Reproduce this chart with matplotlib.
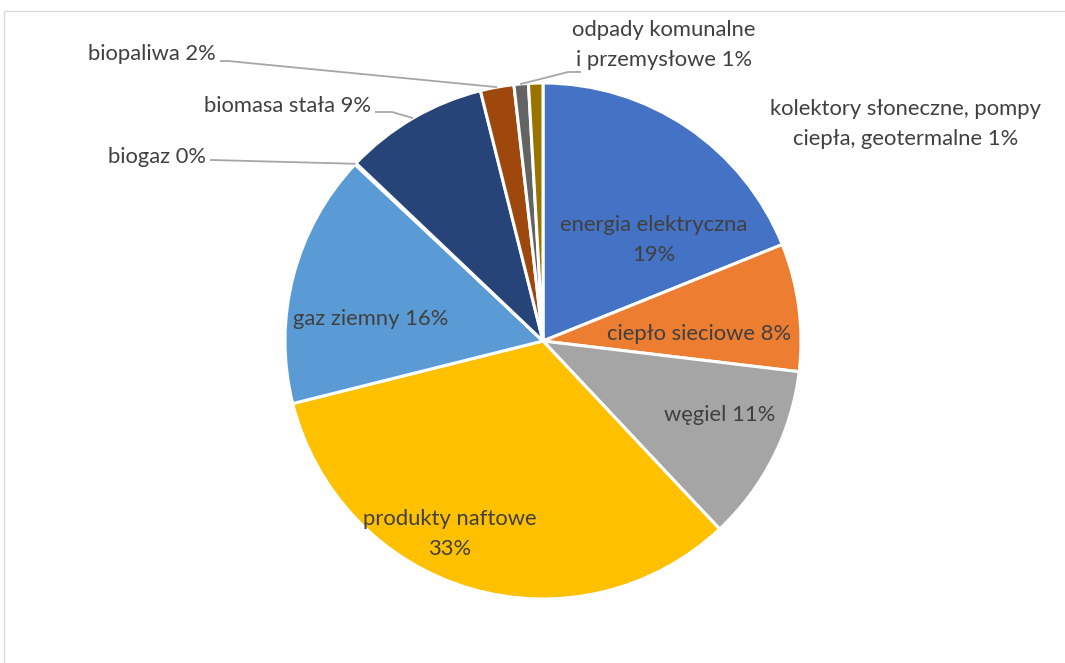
import numpy as np
import matplotlib.pyplot as plt
from matplotlib.patches import Rectangle

plt.rcParams['font.family'] = ['Lato', 'DejaVu Sans']

# Data (udział nośników energii, %)
labels = ['energia elektryczna', 'ciepło sieciowe', 'węgiel', 'produkty naftowe',
          'gaz ziemny', 'biogaz', 'biomasa stała', 'biopaliwa',
          'odpady komunalne\ni przemysłowe',
          'kolektory słoneczne, pompy\nciepła, geotermalne']
values = [18.9, 8.0, 11.1, 33.1, 15.9, 0.1, 9.0, 2.1, 0.9, 0.9]
colors = ['#4472C4', '#ED7D31', '#A5A5A5', '#FFC000', '#5B9BD5',
          '#70AD47', '#264478', '#9E480E', '#636363', '#997300']

W, H = 1065, 663
fig = plt.figure(figsize=(W / 100, H / 100), dpi=100)
ax = fig.add_axes([0, 0, 1, 1])

cx, cy, R = 543, H - 341, 258
wedges, _ = ax.pie(values, colors=colors, startangle=90, counterclock=False,
                   center=(cx, cy), radius=R,
                   wedgeprops=dict(edgecolor='white', linewidth=2.2))
ax.set_xlim(0, W)
ax.set_ylim(0, H)
ax.set_aspect('equal')
ax.axis('off')

total = sum(values)
txt = [f'{l} {v / total * 100:.0f}%' for l, v in zip(labels, values)]
txt[0] = f'{labels[0]}\n{values[0] / total * 100:.0f}%'
txt[3] = f'{labels[3]}\n{values[3] / total * 100:.0f}%'

tc = '#404040'
fs = 15.8
ls = 1.62

# labels inside the pie: (x, y) in pixels from top-left
inside = {0: (654, 240), 1: (699, 334), 2: (720, 415), 3: (450, 534), 4: (371, 319)}
for i, (x, y) in inside.items():
    ax.text(x, H - y, txt[i], ha='center', va='center', fontsize=fs, color=tc,
            linespacing=ls)


def edge_point(w, r=R):
    a = np.deg2rad((w.theta1 + w.theta2) / 2)
    return cx + r * np.cos(a), cy + r * np.sin(a)


# outside labels with leader lines: text anchor, elbow point
outside = {
    5: ((206, 157), (212, 160)),
    6: ((371, 106), (392, 112)),
    7: ((216, 54), (228, 61)),
}
lc = '#A6A6A6'
for i, ((tx, ty), (ex, ey)) in outside.items():
    ax.text(tx, H - ty, txt[i], ha='right', va='center', fontsize=fs, color=tc)
    px, py = edge_point(wedges[i])
    ax.plot([tx + 4, ex, px], [H - ey, H - ey, py], color=lc, lw=1.3,
            solid_capstyle='butt')

# odpady label (above, leader to the right)
ax.text(664, H - 45, txt[8], ha='center', va='center', fontsize=fs, color=tc,
        linespacing=ls)
px, py = edge_point(wedges[8])
ax.plot([px, 568, 580], [py, H - 72, H - 72], color=lc, lw=1.3)

# kolektory label (right, no leader)
ax.text(906, H - 124, txt[9], ha='center', va='center', fontsize=fs, color=tc,
        linespacing=ls)

# chart frame
ax.add_patch(Rectangle((3.5, -20), W + 50, H - 10.5 + 20, fill=False,
                       edgecolor='#D9D9D9', lw=1.0, clip_on=False))

fig.savefig('out.png', dpi=100)
